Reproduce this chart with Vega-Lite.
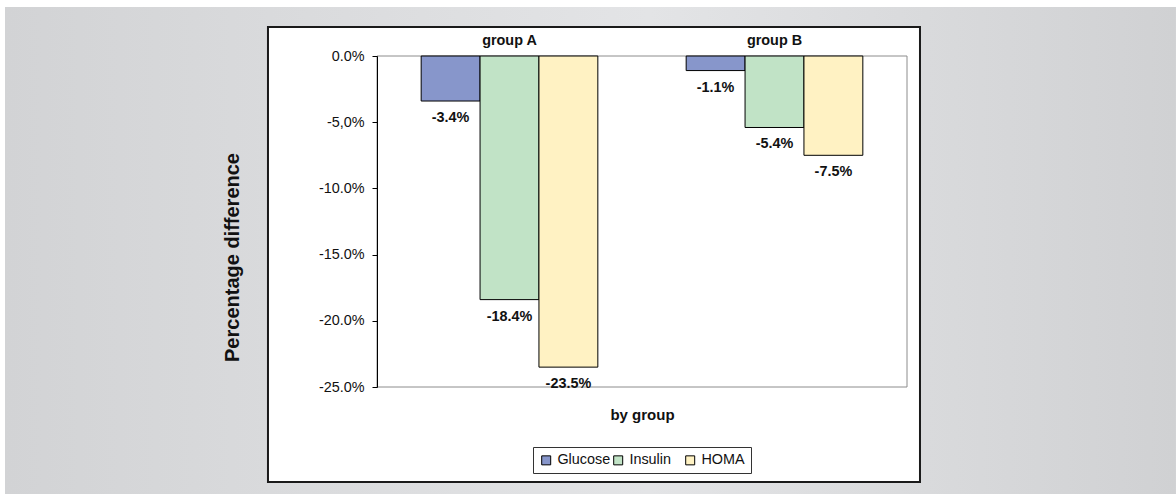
{
  "$schema": "https://vega.github.io/schema/vega-lite/v6.json",
  "autosize": {"type": "none"},
  "width": 530,
  "height": 331,
  "padding": {"left": 377, "top": 56, "right": 269, "bottom": 117},
  "background": "white",
  "datasets": {
    "diffs": [
      {"group": "group A", "measure": "Glucose", "value": -0.034},
      {"group": "group A", "measure": "Insulin", "value": -0.184},
      {"group": "group A", "measure": "HOMA", "value": -0.235},
      {"group": "group B", "measure": "Glucose", "value": -0.011},
      {"group": "group B", "measure": "Insulin", "value": -0.054},
      {"group": "group B", "measure": "HOMA", "value": -0.075}
    ],
    "panel": [{"part": "backdrop"}]
  },
  "resolve": {
    "scale": {"x": "independent"},
    "axis": {"x": "independent", "y": "independent"}
  },
  "layer": [
    {
      "data": {"name": "panel"},
      "mark": {
        "type": "rect",
        "color": {
          "gradient": "linear",
          "x1": 0, "y1": 0, "x2": 1, "y2": 0,
          "stops": [
            {"offset": 0, "color": "#d2d3d5"},
            {"offset": 0.55, "color": "#e3e4e6"},
            {"offset": 1, "color": "#d0d1d3"}
          ]
        }
      },
      "encoding": {
        "x": {"datum": -0.7019, "type": "quantitative", "scale": {"domain": [0, 1], "nice": false, "zero": false}, "axis": null},
        "x2": {"datum": 1.5075},
        "y": {"datum": 0.03701, "type": "quantitative", "scale": {"domain": [-0.25, 0], "nice": false, "zero": false}, "axis": null},
        "y2": {"datum": -0.33082}
      }
    },
    {
      "data": {"name": "panel"},
      "mark": {"type": "rect", "fill": "white", "stroke": "#1a1a1a", "strokeWidth": 2},
      "encoding": {
        "x": {"datum": -0.2057, "type": "quantitative", "scale": {"domain": [0, 1], "nice": false, "zero": false}, "axis": null},
        "x2": {"datum": 1.0245},
        "y": {"datum": 0.0219, "type": "quantitative", "scale": {"domain": [-0.25, 0], "nice": false, "zero": false}, "axis": null},
        "y2": {"datum": -0.32175}
      }
    },
    {
      "data": {"name": "panel"},
      "mark": {"type": "rect", "fill": null, "stroke": "#8c8c8c", "strokeWidth": 1},
      "encoding": {
        "x": {"datum": 0, "type": "quantitative", "scale": {"domain": [0, 1], "nice": false, "zero": false}, "axis": null},
        "x2": {"datum": 1},
        "y": {"datum": 0, "type": "quantitative", "scale": {"domain": [-0.25, 0], "nice": false, "zero": false}, "axis": null},
        "y2": {"datum": -0.25}
      }
    },
    {
      "data": {"name": "diffs"},
      "mark": {"type": "bar", "stroke": "black", "strokeWidth": 1},
      "encoding": {
        "x": {
          "field": "group", "type": "nominal",
          "scale": {"paddingInner": 0, "paddingOuter": 0},
          "axis": {
            "orient": "top", "title": null, "ticks": false, "domain": false, "zindex": 1,
            "labelAngle": 0, "labelFontWeight": "bold", "labelFontSize": 14.4,
            "labelPadding": 9, "labelColor": "#111"
          }
        },
        "xOffset": {
          "field": "measure", "type": "nominal",
          "scale": {"domain": ["Glucose", "Insulin", "HOMA"], "paddingInner": 0, "paddingOuter": 0.75}
        },
        "y": {
          "field": "value", "type": "quantitative",
          "scale": {"domain": [-0.25, 0], "nice": false, "zero": false},
          "axis": {
            "orient": "left", "zindex": 1,
            "values": [0, -0.05, -0.1, -0.15, -0.2, -0.25],
            "format": ".1%",
            "labelExpr": "datum.label == '-5.0%' ? '-5,0%' : datum.label",
            "grid": false, "domainColor": "black", "tickColor": "black", "tickSize": 5,
            "labelFontSize": 14.4, "labelPadding": 8, "labelColor": "#111",
            "title": "Percentage difference", "titleFontSize": 20, "titleFontWeight": "bold",
            "titleColor": "#111", "titleX": -145, "titleY": 201, "titleAngle": -90,
            "titleBaseline": "middle", "titleAlign": "center"
          }
        },
        "y2": {"datum": 0},
        "color": {
          "field": "measure", "type": "nominal",
          "scale": {"domain": ["Glucose", "Insulin", "HOMA"], "range": ["#8796cb", "#c1e3c6", "#fff2c3"]},
          "legend": {
            "orient": "none", "legendX": 156, "legendY": 391, "direction": "horizontal",
            "columns": 3, "gridAlign": "all", "title": null,
            "symbolType": "square", "symbolSize": 81, "symbolStrokeColor": "black", "symbolStrokeWidth": 1,
            "symbolOpacity": 1,
            "labelFontSize": 14.4, "labelColor": "#111", "labelOffset": 4, "columnPadding": 0,
            "strokeColor": "#333", "fillColor": "white", "padding": 6
          }
        }
      }
    },
    {
      "data": {"name": "diffs"},
      "mark": {"type": "text", "dy": 17, "fontWeight": "bold", "fontSize": 14.4, "color": "#111", "baseline": "middle"},
      "encoding": {
        "x": {
          "field": "group", "type": "nominal",
          "scale": {"paddingInner": 0, "paddingOuter": 0},
          "axis": {
            "orient": "bottom", "labels": false, "ticks": false, "domain": false, "zindex": 1,
            "title": "by group", "titleFontSize": 15, "titleFontWeight": "bold",
            "titleColor": "#111", "titlePadding": 20
          }
        },
        "xOffset": {
          "field": "measure", "type": "nominal",
          "scale": {"domain": ["Glucose", "Insulin", "HOMA"], "paddingInner": 0, "paddingOuter": 0.75}
        },
        "y": {
          "field": "value", "type": "quantitative",
          "scale": {"domain": [-0.25, 0], "nice": false, "zero": false},
          "axis": null
        },
        "text": {"field": "value", "type": "quantitative", "format": ".1%"}
      }
    }
  ],
  "config": {
    "font": "Liberation Sans",
    "view": {"stroke": null},
    "locale": {
      "number": {"decimal": ".", "thousands": ",", "grouping": [3], "currency": ["$", ""], "minus": "-"}
    }
  }
}
